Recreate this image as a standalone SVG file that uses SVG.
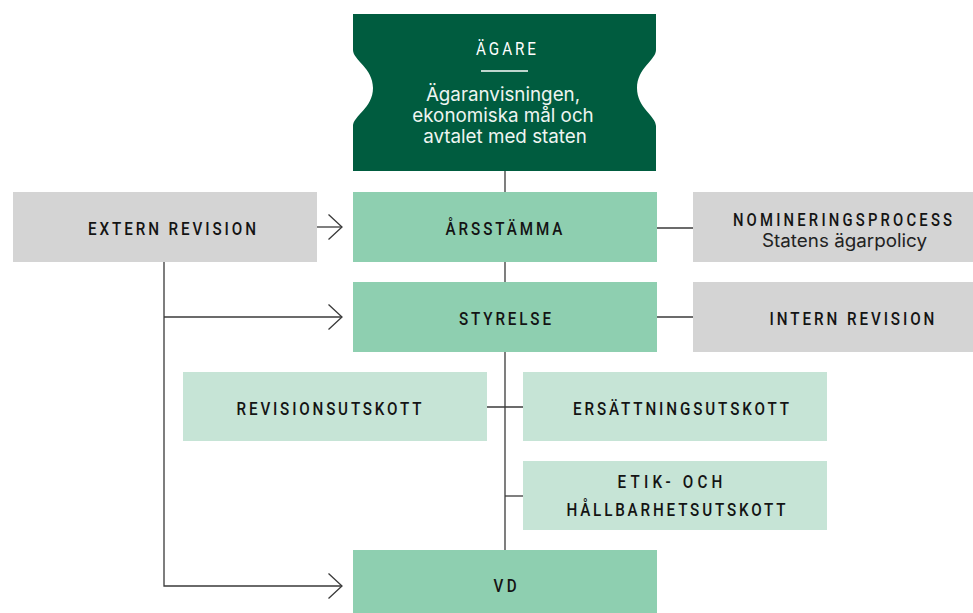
<svg xmlns="http://www.w3.org/2000/svg" width="973" height="613" viewBox="0 0 973 613">
<style>
.lbl{font-family:Roboto,"DejaVu Sans Condensed",sans-serif;font-weight:500;font-size:19px;fill:#141414;text-anchor:middle}
.body{font-family:Inter,"Noto Sans",sans-serif;font-size:18.8px;fill:#eef5f1;text-anchor:middle}
.sub{font-family:Inter,"Noto Sans",sans-serif;font-size:18px;fill:#222;text-anchor:middle}
.grey{fill:#d4d4d4}
.mid{fill:#8ecfb0}
.light{fill:#c6e4d6}
.ln{fill:none;stroke:#3a3a3a;stroke-width:1.3}
</style>
<defs>
<marker id="chev" markerWidth="16" markerHeight="28" refX="14.5" refY="13" orient="auto" markerUnits="userSpaceOnUse">
<path d="M1,0.5 L14.5,13 L1,25.5" fill="none" stroke="#3a3a3a" stroke-width="1.3"/>
</marker>
</defs>
<g id="connectors">
<line class="ln" x1="505" y1="171" x2="505" y2="192"/>
<line class="ln" x1="505" y1="262" x2="505" y2="282"/>
<line class="ln" x1="505" y1="352" x2="505" y2="550"/>
<line class="ln" x1="317" y1="227" x2="342" y2="227" marker-end="url(#chev)"/>
<polyline class="ln" points="164,262 164,586 342,586" marker-end="url(#chev)"/>
<line class="ln" x1="164" y1="317" x2="342" y2="317" marker-end="url(#chev)"/>
<line class="ln" x1="657" y1="228" x2="693" y2="228"/>
<line class="ln" x1="657" y1="317" x2="693" y2="317"/>
<line class="ln" x1="487" y1="407" x2="523" y2="407"/>
<line class="ln" x1="505" y1="496" x2="523" y2="496"/>
</g>
<g id="agare">
<path d="M353,14 H656 V50 C656,60 637,68 637,88 C637,108 656,116 656,126 V171 H353 V126 C353,116 373,108 373,88 C373,68 353,60 353,50 Z" fill="#005c3f"/>
<text class="lbl" transform="translate(506,55) scale(0.8,1)" style="fill:#fff;font-weight:400" textLength="75" lengthAdjust="spacing">ÄGARE</text>
<line x1="481" y1="71" x2="528" y2="71" stroke="#fff" stroke-width="1.3"/>
<text class="body" x="503" y="101">Ägaranvisningen,</text>
<text class="body" x="503" y="122">ekonomiska mål och</text>
<text class="body" x="505" y="143">avtalet med staten</text>
</g>
<g id="extern-revision">
<rect class="grey" x="13" y="192" width="304" height="70"/>
<text class="lbl" transform="translate(172,235) scale(0.8,1)" textLength="210" lengthAdjust="spacing">EXTERN REVISION</text>
</g>
<g id="arsstamma">
<rect class="mid" x="353" y="192" width="304" height="70"/>
<text class="lbl" transform="translate(504,235) scale(0.8,1)" textLength="146" lengthAdjust="spacing">ÅRSSTÄMMA</text>
</g>
<g id="nomineringsprocess">
<rect class="grey" x="693" y="192" width="280" height="70"/>
<text class="lbl" transform="translate(842.5,225.5) scale(0.78,1)" textLength="281" lengthAdjust="spacing">NOMINERINGSPROCESS</text>
<text class="sub" x="844.5" y="247" textLength="165" lengthAdjust="spacingAndGlyphs">Statens ägarpolicy</text>
</g>
<g id="styrelse">
<rect class="mid" x="353" y="282" width="304" height="70"/>
<text class="lbl" transform="translate(505,325) scale(0.8,1)" textLength="115" lengthAdjust="spacing">STYRELSE</text>
</g>
<g id="intern-revision">
<rect class="grey" x="693" y="282" width="280" height="70"/>
<text class="lbl" transform="translate(852,325) scale(0.8,1)" textLength="206" lengthAdjust="spacing">INTERN REVISION</text>
</g>
<g id="revisionsutskott">
<rect class="light" x="183" y="372" width="304" height="69"/>
<text class="lbl" transform="translate(329,415) scale(0.8,1)" textLength="231" lengthAdjust="spacing">REVISIONSUTSKOTT</text>
</g>
<g id="ersattningsutskott">
<rect class="light" x="523" y="372" width="304" height="69"/>
<text class="lbl" transform="translate(681,415) scale(0.8,1)" textLength="270" lengthAdjust="spacing">ERSÄTTNINGSUTSKOTT</text>
</g>
<g id="etik">
<rect class="light" x="523" y="461" width="304" height="69"/>
<text class="lbl" transform="translate(670,488) scale(0.8,1)" textLength="131" lengthAdjust="spacing">ETIK- OCH</text>
<text class="lbl" transform="translate(676,516) scale(0.8,1)" textLength="274" lengthAdjust="spacing">HÅLLBARHETSUTSKOTT</text>
</g>
<g id="vd">
<rect class="mid" x="353" y="550" width="304" height="63"/>
<text class="lbl" transform="translate(505,592) scale(0.8,1)" textLength="29" lengthAdjust="spacing">VD</text>
</g>
</svg>
